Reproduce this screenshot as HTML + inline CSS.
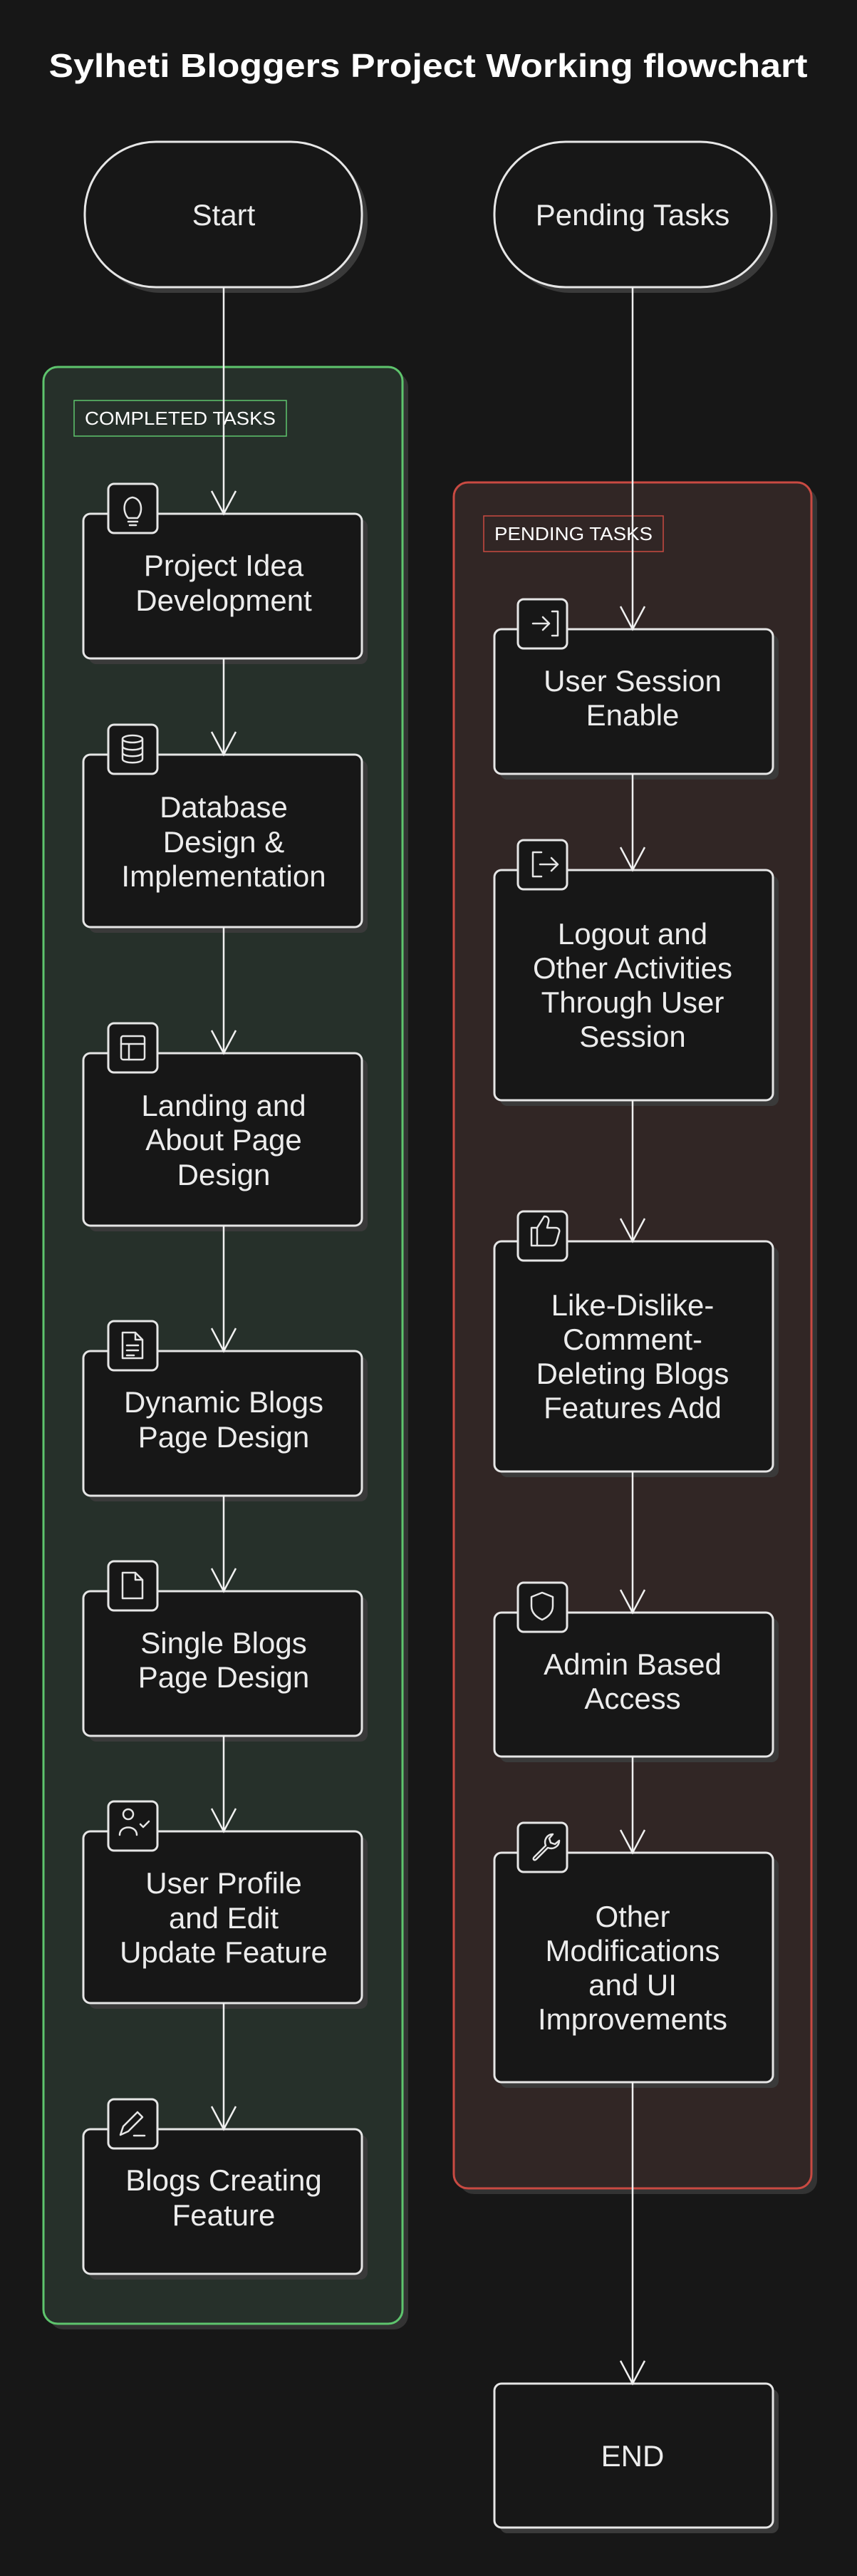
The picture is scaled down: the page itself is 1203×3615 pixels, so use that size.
<!DOCTYPE html>
<html><head><meta charset="utf-8"><style>
html,body{margin:0;padding:0;background:#171717;}
svg{display:block;}
text{font-family:"Liberation Sans",sans-serif;}
</style></head><body>
<svg width="1203" height="3615" viewBox="0 0 1203 3615" xmlns="http://www.w3.org/2000/svg">
<rect width="1203" height="3615" fill="#171717"/>
<text x="601" y="108" fill="#ffffff" font-size="46" font-weight="bold" text-anchor="middle" textLength="1065" lengthAdjust="spacingAndGlyphs">Sylheti Bloggers Project Working flowchart</text>

<!-- groups -->
<rect x="69" y="523" width="504" height="2746" rx="20" fill="#333"/>
<rect x="61" y="515" width="504" height="2746" rx="20" fill="#26302a" stroke="#5ec46d" stroke-width="3"/>
<rect x="104" y="562" width="298" height="50" fill="#26302a" stroke="#5ec46d" stroke-width="1.5"/>
<text x="253" y="596" fill="#fff" font-size="26" text-anchor="middle" textLength="268" lengthAdjust="spacingAndGlyphs">COMPLETED TASKS</text>

<rect x="645" y="685" width="502" height="2394" rx="20" fill="#333"/>
<rect x="637" y="677" width="502" height="2394" rx="20" fill="#312625" stroke="#c94a42" stroke-width="3"/>
<rect x="679" y="724" width="252" height="50" fill="#312625" stroke="#c94a42" stroke-width="1.5"/>
<text x="805" y="758" fill="#fff" font-size="26" text-anchor="middle" textLength="222" lengthAdjust="spacingAndGlyphs">PENDING TASKS</text>

<!-- start / pending -->
<g stroke="#e6e6e6" stroke-width="3">
<rect x="127" y="207" width="389" height="204" rx="100" fill="#3a3a3a" stroke="none"/>
<rect x="119" y="199" width="389" height="204" rx="100" fill="#171717"/>
<rect x="702" y="207" width="389" height="204" rx="100" fill="#3a3a3a" stroke="none"/>
<rect x="694" y="199" width="389" height="204" rx="100" fill="#171717"/>
</g>
<g fill="#ececec" font-size="42" text-anchor="middle">
<text x="314" y="316">Start</text>
<text x="888" y="316">Pending Tasks</text>
</g>

<!-- nodes -->
<g stroke="#e6e6e6" stroke-width="3" fill="#171717">
<!-- shadows -->
<g fill="#3a3a3a" stroke="none">
<rect x="125" y="729" width="391" height="203" rx="10"/>
<rect x="125" y="1067" width="391" height="242" rx="10"/>
<rect x="125" y="1486" width="391" height="242" rx="10"/>
<rect x="125" y="1904" width="391" height="203" rx="10"/>
<rect x="125" y="2241" width="391" height="203" rx="10"/>
<rect x="125" y="2578" width="391" height="241" rx="10"/>
<rect x="125" y="2996" width="391" height="203" rx="10"/>
<rect x="702" y="891" width="391" height="203" rx="10"/>
<rect x="702" y="1229" width="391" height="323" rx="10"/>
<rect x="702" y="1750" width="391" height="323" rx="10"/>
<rect x="702" y="2271" width="391" height="202" rx="10"/>
<rect x="702" y="2608" width="391" height="322" rx="10"/>
<rect x="702" y="3353" width="391" height="202" rx="10"/>
</g>
<rect x="117" y="721" width="391" height="203" rx="10"/>
<rect x="117" y="1059" width="391" height="242" rx="10"/>
<rect x="117" y="1478" width="391" height="242" rx="10"/>
<rect x="117" y="1896" width="391" height="203" rx="10"/>
<rect x="117" y="2233" width="391" height="203" rx="10"/>
<rect x="117" y="2570" width="391" height="241" rx="10"/>
<rect x="117" y="2988" width="391" height="203" rx="10"/>
<rect x="694" y="883" width="391" height="203" rx="10"/>
<rect x="694" y="1221" width="391" height="323" rx="10"/>
<rect x="694" y="1742" width="391" height="323" rx="10"/>
<rect x="694" y="2263" width="391" height="202" rx="10"/>
<rect x="694" y="2600" width="391" height="322" rx="10"/>
<rect x="694" y="3345" width="391" height="202" rx="10"/>
</g>

<!-- arrows -->
<g stroke="#f0f0f0" stroke-width="2.5" fill="none">
<line x1="314" y1="403" x2="314" y2="721"/><polyline points="297,689 314,721 331,689"/>
<line x1="314" y1="924" x2="314" y2="1059"/><polyline points="297,1027 314,1059 331,1027"/>
<line x1="314" y1="1301" x2="314" y2="1478"/><polyline points="297,1446 314,1478 331,1446"/>
<line x1="314" y1="1720" x2="314" y2="1896"/><polyline points="297,1864 314,1896 331,1864"/>
<line x1="314" y1="2099" x2="314" y2="2233"/><polyline points="297,2201 314,2233 331,2201"/>
<line x1="314" y1="2436" x2="314" y2="2570"/><polyline points="297,2538 314,2570 331,2538"/>
<line x1="314" y1="2811" x2="314" y2="2988"/><polyline points="297,2956 314,2988 331,2956"/>
<line x1="888" y1="403" x2="888" y2="883"/><polyline points="871,851 888,883 905,851"/>
<line x1="888" y1="1086" x2="888" y2="1221"/><polyline points="871,1189 888,1221 905,1189"/>
<line x1="888" y1="1544" x2="888" y2="1742"/><polyline points="871,1710 888,1742 905,1710"/>
<line x1="888" y1="2065" x2="888" y2="2263"/><polyline points="871,2231 888,2263 905,2231"/>
<line x1="888" y1="2465" x2="888" y2="2600"/><polyline points="871,2568 888,2600 905,2568"/>
<line x1="888" y1="2922" x2="888" y2="3345"/><polyline points="871,3313 888,3345 905,3313"/>
</g>

<!-- icon boxes -->
<g stroke="#e6e6e6" stroke-width="3" fill="#171717">
<rect x="152" y="679" width="69" height="69" rx="8"/>
<rect x="152" y="1017" width="69" height="69" rx="8"/>
<rect x="152" y="1436" width="69" height="69" rx="8"/>
<rect x="152" y="1854" width="69" height="69" rx="8"/>
<rect x="152" y="2191" width="69" height="69" rx="8"/>
<rect x="152" y="2528" width="69" height="69" rx="8"/>
<rect x="152" y="2946" width="69" height="69" rx="8"/>
<rect x="727" y="841" width="69" height="69" rx="8"/>
<rect x="727" y="1179" width="69" height="69" rx="8"/>
<rect x="727" y="1700" width="69" height="69" rx="8"/>
<rect x="727" y="2221" width="69" height="69" rx="8"/>
<rect x="727" y="2558" width="69" height="69" rx="8"/>
</g>
<g stroke="#e6e6e6" stroke-width="2.5" fill="none" stroke-linecap="round" stroke-linejoin="round">
<!-- bulb -->
<path d="M180,727 C172,719 172,700 186,698 C200,700 201,719 193,727 Z M180,732 h13 M182,737 h9"/>
<!-- db -->
<ellipse cx="186" cy="1037" rx="14" ry="5"/><path d="M172,1037 v28 c0,7 28,7 28,0 v-28 M172,1047 c0,7 28,7 28,0 M172,1056 c0,7 28,7 28,0"/>
<!-- layout -->
<rect x="170" y="1454" width="33" height="33" rx="3"/><path d="M170,1465 h33 M181,1465 v22"/>
<!-- doc lines -->
<path d="M172,1870 h18 l10,10 v26 h-28 Z M190,1870 v10 h10 M178,1888 h16 M178,1895 h16 M178,1902 h10"/>
<!-- doc -->
<path d="M172,2207 h18 l10,10 v26 h-28 Z M190,2207 v10 h10"/>
<!-- user check -->
<circle cx="180" cy="2546" r="7"/><path d="M168,2575 c0,-14 24,-14 24,0 M197,2560 l4,4 l8,-8"/>
<!-- pen -->
<path d="M169,2996 l4,-12 l20,-20 l7,7 l-20,20 Z M188,2997 h15"/>
<!-- login -->
<path d="M775,858 h8 v34 h-8 M748,875 h22 M762,866 l9,9 l-9,9"/>
<!-- logout -->
<path d="M760,1196 h-12 v34 h12 M758,1213 h24 M774,1204 l9,9 l-9,9"/>
<!-- thumbs -->
<path d="M746,1723 h8 v25 h-8 Z M754,1723 l10,-16 c5,0 7,3 6,8 l-2,8 h12 c4,0 6,3 5,6 l-4,14 c-1,3 -3,5 -6,5 h-21"/>
<!-- shield -->
<path d="M761,2235 l15,6 v13 c0,10 -8,16 -15,19 c-7,-3 -15,-9 -15,-19 v-13 Z"/>
<!-- wrench -->
<path d="M750,2606 l16,-16 c-3,-8 2,-16 10,-16 l-5,6 2,6 6,2 6,-5 c0,8 -8,13 -16,10 l-16,16 c-3,3 -6,0 -3,-3 Z"/>
</g>

<!-- labels -->
<g fill="#ececec" font-size="42" text-anchor="middle">
<text x="314" y="808">Project Idea</text><text x="314" y="857">Development</text>
<text x="314" y="1147">Database</text><text x="314" y="1196">Design &amp;</text><text x="314" y="1244">Implementation</text>
<text x="314" y="1566">Landing and</text><text x="314" y="1614">About Page</text><text x="314" y="1663">Design</text>
<text x="314" y="1982">Dynamic Blogs</text><text x="314" y="2031">Page Design</text>
<text x="314" y="2320">Single Blogs</text><text x="314" y="2368">Page Design</text>
<text x="314" y="2657">User Profile</text><text x="314" y="2706">and Edit</text><text x="314" y="2754">Update Feature</text>
<text x="314" y="3074">Blogs Creating</text><text x="314" y="3123">Feature</text>
<text x="888" y="970">User Session</text><text x="888" y="1018">Enable</text>
<text x="888" y="1325">Logout and</text><text x="888" y="1373">Other Activities</text><text x="888" y="1421">Through User</text><text x="888" y="1469">Session</text>
<text x="888" y="1846">Like-Dislike-</text><text x="888" y="1894">Comment-</text><text x="888" y="1942">Deleting Blogs</text><text x="888" y="1990">Features Add</text>
<text x="888" y="2350">Admin Based</text><text x="888" y="2398">Access</text>
<text x="888" y="2704">Other</text><text x="888" y="2752">Modifications</text><text x="888" y="2800">and UI</text><text x="888" y="2848">Improvements</text>
<text x="888" y="3461">END</text>
</g>
</svg>
</body></html>
